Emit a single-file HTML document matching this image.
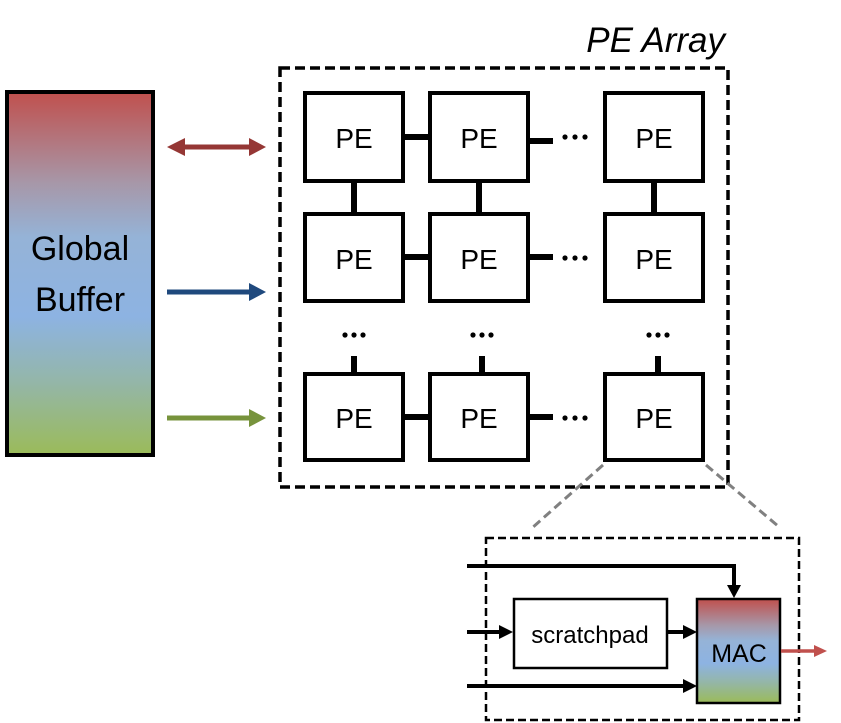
<!DOCTYPE html>
<html><head><meta charset="utf-8"><style>
html,body{margin:0;padding:0;background:#fff;}
svg{display:block;font-family:"Liberation Sans",sans-serif;}
</style></head><body>
<svg width="841" height="723" viewBox="0 0 841 723">
<defs>
<linearGradient id="gb" x1="0" y1="0" x2="0" y2="1">
<stop offset="0" stop-color="#c0504d"/><stop offset="0.25" stop-color="#a797a8"/>
<stop offset="0.4" stop-color="#95b3d7"/><stop offset="0.62" stop-color="#8db3e2"/>
<stop offset="0.8" stop-color="#94b6a8"/><stop offset="1" stop-color="#9bbb59"/>
</linearGradient>
</defs>
<g>
<rect x="7" y="92" width="146" height="363" fill="url(#gb)" stroke="#000" stroke-width="4"/>
<text x="80" y="260" font-size="34" text-anchor="middle">Global</text>
<text x="80" y="311" font-size="34" text-anchor="middle">Buffer</text>
</g>
<g>
<line x1="180" y1="147" x2="252" y2="147" stroke="#953735" stroke-width="5"/>
<path d="M167,147 L185,138 L185,156 z M266,147 L249,138 L249,156 z" fill="#953735"/>
</g>
<g>
<line x1="167" y1="292" x2="252" y2="292" stroke="#1f497d" stroke-width="5"/>
<path d="M266,292 L249,283 L249,301 z" fill="#1f497d"/>
</g>
<g>
<line x1="167" y1="418" x2="252" y2="418" stroke="#77933c" stroke-width="5"/>
<path d="M266,418 L249,409 L249,427 z" fill="#77933c"/>
</g>
<text x="725" y="52" font-size="35" font-style="italic" text-anchor="end">PE Array</text>
<rect x="280" y="68" width="448" height="419" fill="none" stroke="#000" stroke-width="3.5" stroke-dasharray="10,5"/>
<g stroke="#000" stroke-width="6">
<line x1="404" y1="137" x2="429" y2="137"/><line x1="529" y1="141" x2="553" y2="141"/>
<line x1="404" y1="257" x2="429" y2="257"/><line x1="529" y1="257" x2="553" y2="257"/>
<line x1="404" y1="417" x2="429" y2="417"/><line x1="529" y1="417" x2="553" y2="417"/>
<line x1="354" y1="181" x2="354" y2="214"/><line x1="479" y1="181" x2="479" y2="214"/><line x1="654" y1="181" x2="654" y2="214"/>
<line x1="354" y1="356" x2="354" y2="374"/><line x1="482" y1="356" x2="482" y2="374"/><line x1="658" y1="356" x2="658" y2="374"/>
</g>
<g fill="#000">
<circle cx="565" cy="137" r="2.6"/><circle cx="575" cy="137" r="2.6"/><circle cx="585" cy="137" r="2.6"/>
<circle cx="565" cy="258" r="2.6"/><circle cx="575" cy="258" r="2.6"/><circle cx="585" cy="258" r="2.6"/>
<circle cx="565" cy="418" r="2.6"/><circle cx="575" cy="418" r="2.6"/><circle cx="585" cy="418" r="2.6"/>
<circle cx="345" cy="335" r="2.6"/><circle cx="354" cy="335" r="2.6"/><circle cx="363" cy="335" r="2.6"/>
<circle cx="473" cy="335" r="2.6"/><circle cx="482" cy="335" r="2.6"/><circle cx="491" cy="335" r="2.6"/>
<circle cx="649" cy="335" r="2.6"/><circle cx="658" cy="335" r="2.6"/><circle cx="667" cy="335" r="2.6"/>
</g>
<g>
<g stroke="#000" stroke-width="4" fill="#fff">
<rect x="305" y="93" width="98" height="88"/><rect x="430" y="93" width="98" height="88"/><rect x="605" y="93" width="98" height="88"/>
<rect x="305" y="214" width="98" height="87"/><rect x="430" y="214" width="98" height="87"/><rect x="605" y="214" width="98" height="87"/>
<rect x="305" y="374" width="98" height="86"/><rect x="430" y="374" width="98" height="86"/><rect x="605" y="374" width="98" height="86"/>
</g>
<g font-size="28" text-anchor="middle">
<text x="354" y="148">PE</text><text x="479" y="148">PE</text><text x="654" y="148">PE</text>
<text x="354" y="269">PE</text><text x="479" y="269">PE</text><text x="654" y="269">PE</text>
<text x="354" y="428">PE</text><text x="479" y="428">PE</text><text x="654" y="428">PE</text>
</g>
</g>
<g stroke="#808080" stroke-width="3" stroke-dasharray="9,5">
<line x1="603" y1="465" x2="532" y2="528"/><line x1="706" y1="465" x2="778" y2="526"/>
</g>
<rect x="486" y="538" width="313" height="182" fill="none" stroke="#000" stroke-width="2.5" stroke-dasharray="8,4"/>
<g stroke="#000" stroke-width="4" fill="none">
<polyline points="467,566 734,566 734,586"/>
<line x1="467" y1="632" x2="500" y2="632"/>
<line x1="667" y1="632" x2="684" y2="632"/>
<line x1="467" y1="686" x2="684" y2="686"/>
</g>
<g fill="#000">
<path d="M734,598 L727,585 L741,585 z"/>
<path d="M513,632 L499,625 L499,639 z"/>
<path d="M697,632 L683,625 L683,639 z"/>
<path d="M697,686 L683,679 L683,693 z"/>
</g>
<g>
<rect x="514" y="599" width="153" height="69" fill="#fff" stroke="#000" stroke-width="2.5"/>
<text x="590" y="643" font-size="24" text-anchor="middle">scratchpad</text>
</g>
<g>
<rect x="697" y="599" width="83" height="104" fill="url(#gb)" stroke="#000" stroke-width="2.5"/>
<text x="739" y="662" font-size="25" text-anchor="middle">MAC</text>
</g>
<g>
<line x1="781" y1="651" x2="815" y2="651" stroke="#c0504d" stroke-width="3.5"/>
<path d="M827,651 L814,645 L814,657 z" fill="#c0504d"/>
</g>
</svg>
</body></html>
